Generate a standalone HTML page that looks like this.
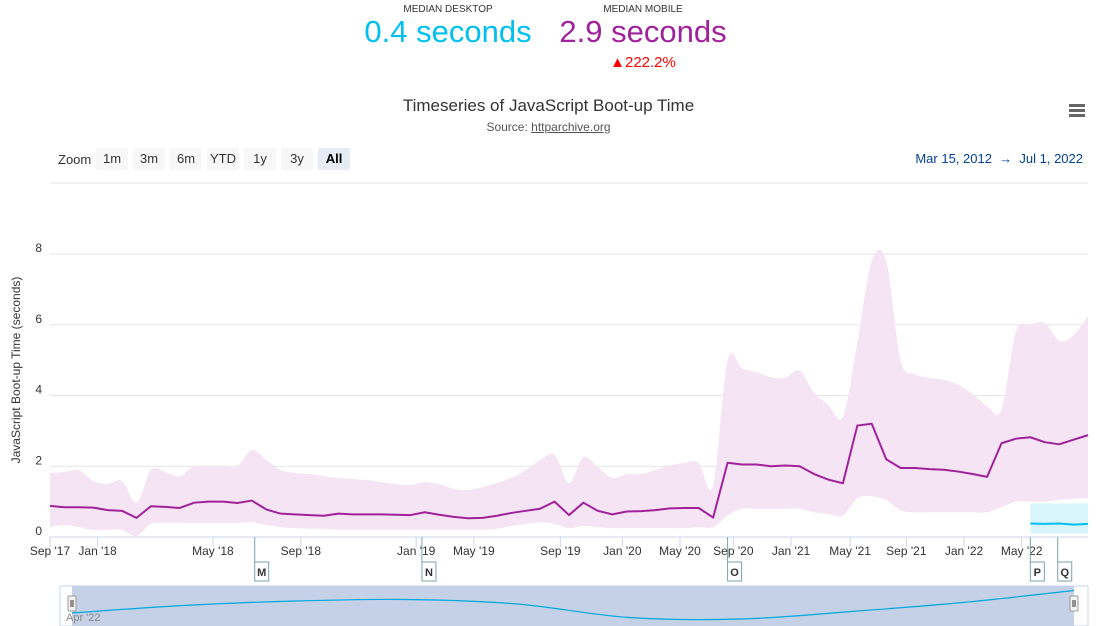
<!DOCTYPE html>
<html><head><meta charset="utf-8">
<style>
body{margin:0;width:1097px;height:626px;overflow:hidden;background:#fff;font-family:"Liberation Sans","DejaVu Sans",sans-serif;position:relative}
.abs{position:absolute}
.btn{position:absolute;top:148px;height:22px;line-height:22px;background:#f7f7f7;color:#333;font-size:13px;text-align:center;border-radius:2px}
</style></head><body>
<div class="abs" style="left:380px;top:4px;width:136px;text-align:center;font-size:10px;color:#333">MEDIAN DESKTOP</div>
<div class="abs" style="left:358px;top:14px;width:180px;text-align:center;font-size:31px;color:#00c0ef">0.4 seconds</div>
<div class="abs" style="left:575px;top:4px;width:136px;text-align:center;font-size:10px;color:#333">MEDIAN MOBILE</div>
<div class="abs" style="left:550px;top:14px;width:186px;text-align:center;font-size:31px;color:#a0229b">2.9 seconds</div>
<div class="abs" style="left:606px;top:54px;width:74px;text-align:center;font-size:15px;color:#f00">▲222.2%</div>
<div class="abs" style="left:0;top:96px;width:1097px;text-align:center;font-size:17px;color:#333">Timeseries of JavaScript Boot-up Time</div>
<div class="abs" style="left:0;top:120px;width:1097px;text-align:center;font-size:12px;color:#555">Source: <span style="text-decoration:underline">httparchive.org</span></div>
<div class="abs" style="left:1069px;top:104px;width:16px;height:14px">
<div style="height:3px;background:#666;margin-bottom:2px"></div><div style="height:3px;background:#666;margin-bottom:2px"></div><div style="height:3px;background:#666"></div></div>
<div class="abs" style="left:58px;top:152px;font-size:13px;color:#333">Zoom</div>
<div class="btn" style="left:96px;width:32px">1m</div>
<div class="btn" style="left:133px;width:32px">3m</div>
<div class="btn" style="left:170px;width:32px">6m</div>
<div class="btn" style="left:207px;width:32px">YTD</div>
<div class="btn" style="left:244px;width:32px">1y</div>
<div class="btn" style="left:281px;width:32px">3y</div>
<div class="btn" style="left:318px;width:32px;background:#e6ebf5;font-weight:bold;color:#000">All</div>
<div class="abs" style="left:880px;top:151px;width:203px;text-align:right;font-size:13px;color:#034194">Mar 15, 2012 &nbsp;→&nbsp; Jul 1, 2022</div>
<svg id="chart" class="abs" style="left:0;top:0" width="1097" height="626"></svg>
<script>
const mobileMedian=[.88,.84,.84,.83,.76,.74,.54,.87,.85,.82,.97,1.0,1.0,.96,1.03,.78,.66,.64,.62,.6,.66,.64,.64,.64,.63,.62,.7,.63,.57,.53,.54,.6,.68,.74,.8,1.0,.62,.97,.74,.64,.72,.73,.76,.81,.82,.82,.55,2.1,2.05,2.05,2.0,2.02,2.0,1.78,1.62,1.52,3.15,3.2,2.2,1.95,1.95,1.92,1.9,1.85,1.78,1.7,2.65,2.78,2.82,2.68,2.62,2.75,2.88];
const mobileUpper=[1.81,1.84,1.89,1.58,1.5,1.58,0.96,1.89,1.84,1.72,2.0,2.0,2.0,2.0,2.46,2.18,1.89,1.81,1.78,1.72,1.67,1.64,1.61,1.55,1.5,1.47,1.55,1.5,1.36,1.33,1.41,1.53,1.67,1.89,2.18,2.32,1.53,2.26,1.98,1.67,1.78,1.78,1.89,2.03,2.09,2.09,1.45,5.0,4.77,4.66,4.52,4.5,4.7,4.07,3.73,3.4,5.5,7.8,7.8,5.0,4.6,4.5,4.45,4.3,4.05,3.7,3.6,5.8,6.0,6.05,5.55,5.7,6.25];
const mobileLower=[.28,.34,.28,.2,.2,.2,.03,.37,.4,.4,.4,.4,.4,.4,.42,.34,.28,.25,.23,.23,.2,.2,.2,.2,.2,.2,.2,.2,.2,.2,.2,.23,.31,.37,.42,.37,.25,.31,.28,.25,.25,.25,.25,.25,.25,.28,.28,.6,.8,.8,.8,.8,.8,.7,.65,.6,1.1,1.15,1.05,.75,.7,.7,.7,.7,.7,.7,.85,1.0,1.0,1.0,1.05,1.08,1.1];
const desktopStart=68;
const desktopMedian=[.38,.37,.38,.35,.37];
const desktopUpper=[.95,.95,.95,.95,.95];
const desktopLower=[.1,.1,.1,.1,.1];
const yTicks=[0,2,4,6,8];
const xTickLabels=["Sep '17","Jan '18","May '18","Sep '18","Jan '19","May '19","Sep '19","Jan '20","May '20","Sep '20","Jan '21","May '21","Sep '21","Jan '22","May '22"];
const xTickIndex=[0,3.3,11.3,17.4,25.4,29.4,35.4,39.7,43.7,47.4,51.4,55.5,59.4,63.4,67.4];
const flagLabels=["M","N","O","P","Q"];
const flagIndex=[14.2,25.8,47.0,68.0,69.9];
const navValues=[0.2,0.45,0.6,0.65,0.5,0.05,0.0,0.25,0.55,0.95];

const L=50,R=1088,T=183,B=537,N=mobileMedian.length;
const x=i=>L+i*(R-L)/(N-1);
const y=v=>B-v*(B-254)/8;
const svg=document.getElementById('chart');
const NS='http://www.w3.org/2000/svg';
function mk(tag,at){const e=document.createElementNS(NS,tag);for(const k in at)e.setAttribute(k,at[k]);svg.appendChild(e);return e;}
function smooth(pts){
  let d='';
  for(let i=0;i<pts.length-1;i++){
    const p0=pts[Math.max(0,i-1)],p1=pts[i],p2=pts[i+1],p3=pts[Math.min(pts.length-1,i+2)];
    const c1=[p1[0]+(p2[0]-p0[0])/6,p1[1]+(p2[1]-p0[1])/6],c2=[p2[0]-(p3[0]-p1[0])/6,p2[1]-(p3[1]-p1[1])/6];
    d+=`C${c1[0]},${c1[1]} ${c2[0]},${c2[1]} ${p2[0]},${p2[1]}`;
  }
  return d;
}
let g=mk('line',{x1:L,x2:R,y1:T,y2:T,stroke:'#e6e6e6'});


yTicks.forEach(v=>{
  if(v>0){const l=mk('line',{x1:L,x2:R,y1:y(v),y2:y(v),stroke:'#e6e6e6'});
  
  }
  const t=mk('text',{x:42,y:y(v)-2,'text-anchor':'end','font-size':12,fill:'#333'});t.textContent=v;
  
  
});
const yt=mk('text',{x:0,y:0,transform:`translate(20,${(T+B)/2+10}) rotate(-90)`,'text-anchor':'middle','font-size':12,fill:'#333'});
yt.textContent='JavaScript Boot-up Time (seconds)';


function band(up,lo,off,fill,name){
  const u=up.map((v,i)=>[x(i+off),y(v)]);
  const l=lo.map((v,i)=>[x(i+off),y(v)]).reverse();
  const d='M'+u[0][0]+','+u[0][1]+smooth(u)+'L'+l[0][0]+','+l[0][1]+smooth(l)+'Z';
  const p=mk('path',{d:d,fill:fill});
  
  
}
function line(vals,off,col,w,name){
  const p=mk('path',{d:'M'+vals.map((v,i)=>x(i+off)+','+y(v)).join('L'),fill:'none',stroke:col,'stroke-width':w,'stroke-linejoin':'round'});
  
  
}
band(mobileUpper,mobileLower,0,'#f5e4f4','mobile-range-band');
band(desktopUpper,desktopLower,desktopStart,'#d9f5fc','desktop-range-band');
line(mobileMedian,0,'#a0229b',2,'mobile-median-line');
line(desktopMedian,desktopStart,'#00c0ef',2,'desktop-median-line');
g=mk('line',{x1:L,x2:R,y1:B,y2:B,stroke:'#ccd6eb'});


xTickLabels.forEach((s,k)=>{
  const xx=x(xTickIndex[k]);
  const tk=mk('line',{x1:xx,x2:xx,y1:B,y2:B+10,stroke:'#ccd6eb'});
  
  
  const t=mk('text',{x:xx,y:B+18,'text-anchor':'middle','font-size':12,fill:'#333'});t.textContent=s;
  
  
});
flagLabels.forEach((s,k)=>{
  const xx=x(flagIndex[k]);
  const st=mk('line',{x1:xx,x2:xx,y1:B,y2:B+25,stroke:'#7ba3a8'});
  
  
  const r=mk('rect',{x:xx,y:B+25,width:14,height:19,fill:'#fff',stroke:'#7ba3a8'});
  
  
  const t=mk('text',{x:xx+7,y:B+39,'text-anchor':'middle','font-size':11,'font-weight':'bold',fill:'#333'});t.textContent=s;
  
  
});
// navigator
const NL=60,NR=1088,NT=586,NB=626,NX0=72,NX1=1074;
g=mk('rect',{x:NL,y:NT,width:NR-NL,height:NB-NT,fill:'#fff',stroke:'#ccd6eb'});


g=mk('rect',{x:NX0,y:NT,width:NX1-NX0,height:NB-NT,fill:'#c4d1e6'});


const nx=i=>NX0+i*(NX1-NX0)/(navValues.length-1), ny=v=>NT+3+(1-v)*30;
const np=navValues.map((v,i)=>[nx(i),ny(v)]);
g=mk('path',{d:'M'+np[0][0]+','+np[0][1]+smooth(np),fill:'none',stroke:'#00a8e0','stroke-width':1.2});


[NX0,NX1].forEach((hx,k)=>{
  const h=mk('rect',{x:hx-4,y:NT+10,width:8,height:15,fill:'#f2f2f2',stroke:'#999',rx:1});
  
  
  const l=mk('path',{d:`M${hx-1},${NT+14}v7M${hx+1},${NT+14}v7`,stroke:'#333'});
  
  
});
g=mk('text',{x:66,y:621,'font-size':11,fill:'#888'});g.textContent="Apr '22";


</script>
</body></html>
